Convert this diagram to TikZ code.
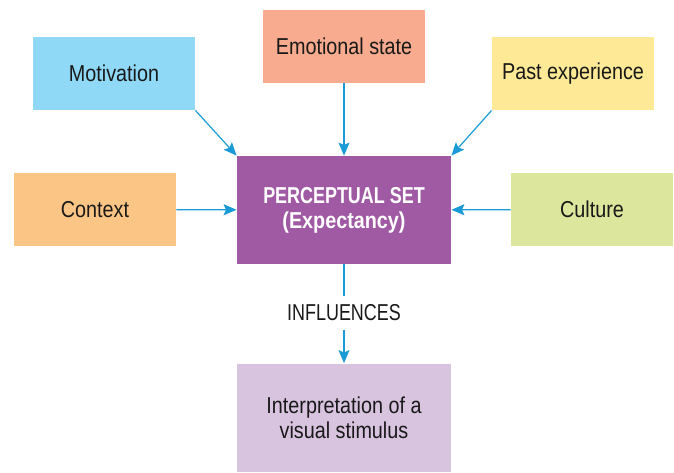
\documentclass[tikz,border=0pt]{standalone}
\usepackage{fontspec}
\setmainfont[FakeStretch=0.86]{Liberation Sans}
\newfontfamily\capsfont[FakeStretch=0.78]{Liberation Sans}
\usetikzlibrary{arrows.meta}

\definecolor{motiblue}{HTML}{8FD9F6}
\definecolor{emosalmon}{HTML}{F9AB8F}
\definecolor{pastyellow}{HTML}{FDE996}
\definecolor{ctxorange}{HTML}{FBC586}
\definecolor{cultgreen}{HTML}{DCE69C}
\definecolor{setpurple}{HTML}{A05AA4}
\definecolor{interplilac}{HTML}{D9C4E0}
\definecolor{linkblue}{HTML}{1A9BD7}

\begin{document}
\begin{tikzpicture}[x=0.5pt,y=-0.5pt,
    panel/.style={minimum width=81pt,minimum height=36.5pt,inner sep=0pt,
        align=center,text=black!90,font=\fontsize{11.5}{12.5}\selectfont},
    bigpanel/.style={panel,minimum width=107pt,minimum height=54pt},
    link/.style={draw=linkblue,line width=0.6pt,
        -{Stealth[length=6.5pt,width=5.5pt,inset=1.2pt]}}]
    \useasboundingbox (0,0) rectangle (674,472);

    % outer factors
    \node[panel,fill=motiblue] (moti) at (114,73.5) {Motivation};
    \node[panel,fill=emosalmon] (emo) at (344,46) {Emotional state};
    \node[panel,fill=pastyellow] (past) at (573,73.5) {Past experience};
    \node[panel,fill=ctxorange] (ctx) at (95,209.5) {Context};
    \node[panel,fill=cultgreen] (cult) at (592,209.5) {Culture};

    % centre and result
    \node[bigpanel,fill=setpurple,text=white] (pset) at (344,210)
        {{\capsfont\bfseries PERCEPTUAL SET}\\\textbf{(Expectancy)}};
    \node[bigpanel,fill=interplilac] (interp) at (344,417.5)
        {Interpretation of a\\visual stimulus};
    \node[text=black!90,font=\fontsize{11.5}{12.5}\selectfont\capsfont,inner sep=4pt]
        (infl) at (344,313) {INFLUENCES};

    \draw[link] (moti.south east) -- (pset.north west);
    \draw[link] (emo) -- (pset);
    \draw[link] (past.south west) -- (pset.north east);
    \draw[link] (ctx) -- (pset);
    \draw[link] (cult) -- (pset);

    \draw[draw=linkblue,line width=0.6pt] (pset) -- (infl);
    \draw[link] (infl) -- (interp);
\end{tikzpicture}
\end{document}
